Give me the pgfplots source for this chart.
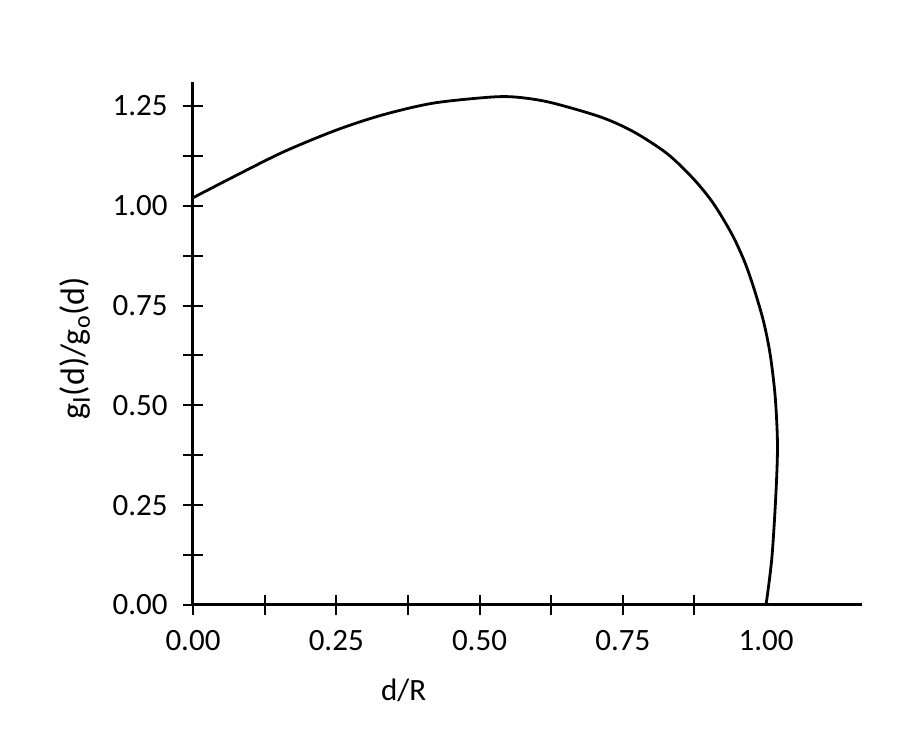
\documentclass[border=0pt]{standalone}
\usepackage{pgfplots}
\pgfplotsset{compat=1.18}
\usepackage{fontspec}
\setmainfont{Carlito}
\begin{document}
\fontsize{15.5}{18}\selectfont
\begin{tikzpicture}
% picture = 900x732 px at 0.5pt per px, axis origin at px (193,605)
\useasboundingbox (-96.5pt,-63.5pt) rectangle (353.5pt,302.5pt);
\begin{axis}[
  scale only axis,
  width=334.5pt, height=261.5pt,
  xmin=0, xmax=1.1675, ymin=0, ymax=1.31,
  axis x line=bottom, axis y line=left,
  axis line style={-, line width=1.5pt},
  xtick={0,0.25,0.5,0.75},
  minor xtick={0.125,0.375,0.625,0.875},
  extra x ticks={1},
  extra x tick style={tick style={draw=none}},
  ytick={0,0.25,0.5,0.75,1,1.25},
  minor ytick={0.125,0.375,0.625,0.875,1.125},
  tick align=center,
  major tick length=10pt, minor tick length=10pt,
  every tick/.style={black, line width=1pt},
  /pgf/number format/.cd, fixed, fixed zerofill, precision=2, assume math mode=true,
  /pgfplots/.cd,
  xticklabel style={anchor=center, yshift=-13pt, inner sep=0pt},
  yticklabel style={anchor=east, inner sep=0pt, xshift=-7.5pt},
  xlabel={d/R},
  xlabel style={at={(rel axis cs:0.315,-0.1625)}, anchor=center},
  ylabel={\fontsize{17}{20}\selectfont g\textsubscript{\fontsize{13}{14}\selectfont I}(d)/g\textsubscript{\fontsize{12}{14}\selectfont o}(d)},
  ylabel style={at={(rel axis cs:-0.176,0.491)}, anchor=center},
  clip=false,
]
\addplot[black, line width=1.4pt, smooth] coordinates {
  (0.000,1.020) (0.070,1.072) (0.158,1.135) (0.251,1.190) (0.332,1.228)
  (0.419,1.257) (0.518,1.272) (0.565,1.272) (0.623,1.259) (0.710,1.223)
  (0.768,1.186) (0.827,1.131) (0.873,1.068) (0.908,1.006) (0.940,0.930)
  (0.962,0.862) (0.978,0.797) (0.995,0.714) (1.007,0.630) (1.016,0.522)
  (1.020,0.400) (1.017,0.271) (1.010,0.115) (1.000,0.000)
};
\end{axis}
\end{tikzpicture}
\end{document}
